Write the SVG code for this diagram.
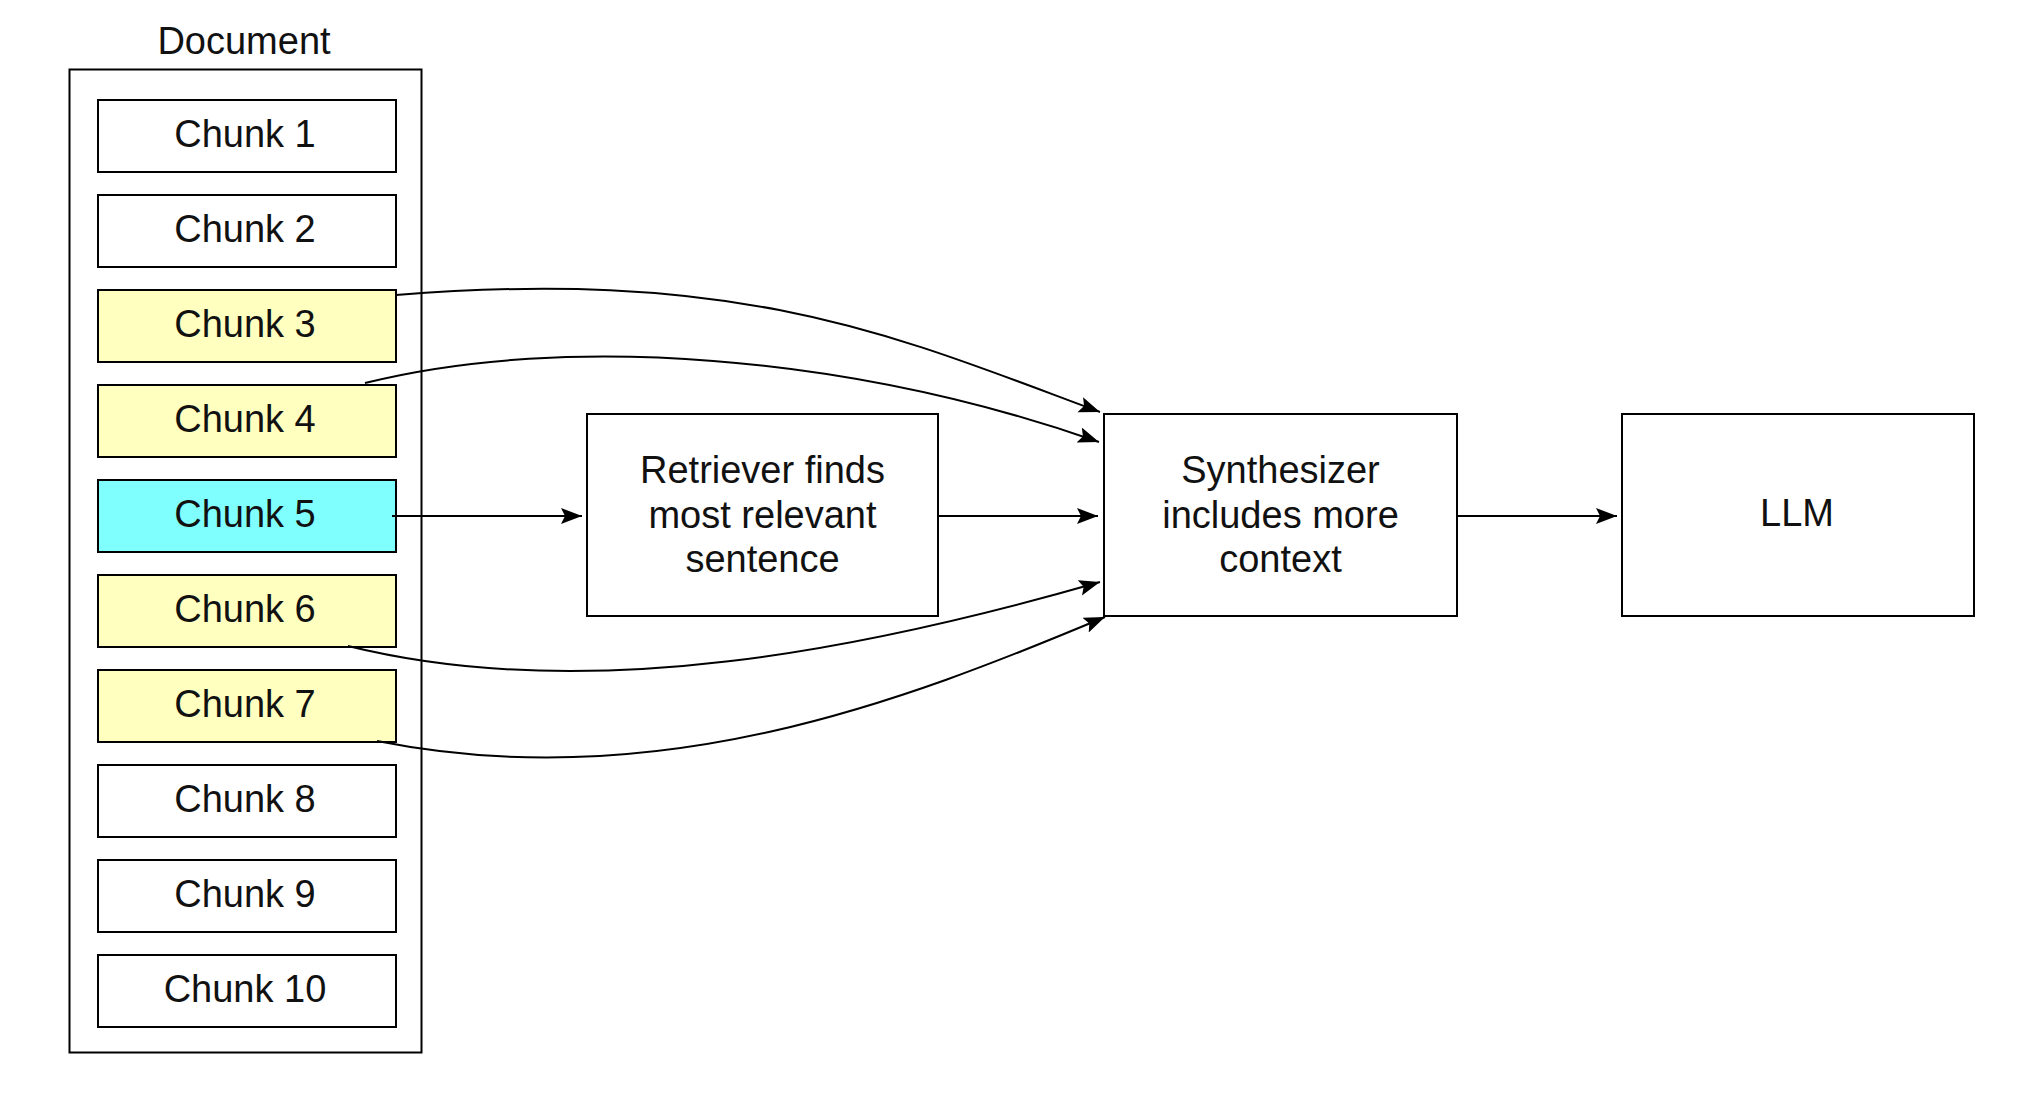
<svg xmlns="http://www.w3.org/2000/svg" width="2032" height="1104" viewBox="0 0 2032 1104">
  <style>
    .box { fill: #ffffff; stroke: #000000; stroke-width: 2; }
    .hl { fill: #ffffc0; }
    .sel { fill: #80ffff; }
    .t { font-family: "Liberation Sans", Arial, Helvetica, sans-serif; font-size: 38px; fill: #111111; text-anchor: middle; }
    .edge { fill: none; stroke: #000000; stroke-width: 2; marker-end: url(#arrow); }
  </style>
  <defs>
    <marker id="arrow" markerUnits="userSpaceOnUse" markerWidth="24" markerHeight="18" refX="21" refY="8" orient="auto">
      <path d="M0,0 L21,8 L0,16 L4,8 Z" fill="#000000"/>
    </marker>
  </defs>
  <rect width="2032" height="1104" fill="#ffffff"/>

  <g id="document">
    <text class="t" x="244" y="54">Document</text>
    <rect class="box" x="69.5" y="69.5" width="352" height="983"/>
  </g>
  <g id="chunk1"><rect class="box" x="98" y="100" width="298" height="72"/><text class="t" x="245" y="147">Chunk 1</text></g>
  <g id="chunk2"><rect class="box" x="98" y="195" width="298" height="72"/><text class="t" x="245" y="242">Chunk 2</text></g>
  <g id="chunk3"><rect class="box hl" x="98" y="290" width="298" height="72"/><text class="t" x="245" y="337">Chunk 3</text></g>
  <g id="chunk4"><rect class="box hl" x="98" y="385" width="298" height="72"/><text class="t" x="245" y="432">Chunk 4</text></g>
  <g id="chunk5"><rect class="box sel" x="98" y="480" width="298" height="72"/><text class="t" x="245" y="527">Chunk 5</text></g>
  <g id="chunk6"><rect class="box hl" x="98" y="575" width="298" height="72"/><text class="t" x="245" y="622">Chunk 6</text></g>
  <g id="chunk7"><rect class="box hl" x="98" y="670" width="298" height="72"/><text class="t" x="245" y="717">Chunk 7</text></g>
  <g id="chunk8"><rect class="box" x="98" y="765" width="298" height="72"/><text class="t" x="245" y="812">Chunk 8</text></g>
  <g id="chunk9"><rect class="box" x="98" y="860" width="298" height="72"/><text class="t" x="245" y="907">Chunk 9</text></g>
  <g id="chunk10"><rect class="box" x="98" y="955" width="298" height="72"/><text class="t" x="245" y="1002">Chunk 10</text></g>

  <g id="retriever">
    <rect class="box" x="587" y="414" width="351" height="202"/>
    <text class="t" x="762.5" y="483">Retriever finds</text>
    <text class="t" x="762.5" y="528">most relevant</text>
    <text class="t" x="762.5" y="572">sentence</text>
  </g>
  <g id="synthesizer">
    <rect class="box" x="1104" y="414" width="353" height="202"/>
    <text class="t" x="1280.5" y="483">Synthesizer</text>
    <text class="t" x="1280.5" y="528">includes more</text>
    <text class="t" x="1280.5" y="572">context</text>
  </g>
  <g id="llm">
    <rect class="box" x="1622" y="414" width="352" height="202"/>
    <text class="t" x="1797" y="526">LLM</text>
  </g>

  <g id="connectors">
    <path class="edge" d="M396,295 C746,267 900,338 1100,412"/>
    <path class="edge" d="M365,383 C565,333 849,354.5 1099,442"/>
    <path class="edge" d="M348,646 C590,706 870,648 1100,582"/>
    <path class="edge" d="M377,741 C657,797 905,701 1105,617"/>
    <path class="edge" d="M392,516 L582,516"/>
    <path class="edge" d="M938,516 L1098,516"/>
    <path class="edge" d="M1457,516 L1617,516"/>
  </g>
</svg>
